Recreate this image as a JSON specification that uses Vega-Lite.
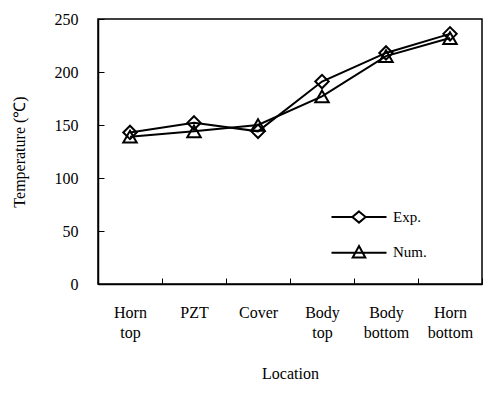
{
  "$schema": "https://vega.github.io/schema/vega-lite/v6.json",
  "width": 384,
  "height": 265,
  "autosize": "none",
  "padding": {"left": 98, "top": 19, "right": 6, "bottom": 124},
  "background": "white",
  "config": {
    "font": "Liberation Serif",
    "view": {"stroke": "black", "strokeWidth": 1.5},
    "axis": {
      "domainColor": "black", "domainWidth": 1.5, "tickColor": "black", "tickWidth": 1,
      "labelColor": "black", "titleColor": "black",
      "labelFont": "Liberation Serif", "titleFont": "Liberation Serif",
      "labelFontSize": 16, "titleFontSize": 16, "titleFontWeight": "normal", "grid": false
    }
  },
  "data": {
    "values": [
      {"location": "Horn top", "series": "Exp.", "temp": 143},
      {"location": "PZT", "series": "Exp.", "temp": 152},
      {"location": "Cover", "series": "Exp.", "temp": 144},
      {"location": "Body top", "series": "Exp.", "temp": 191},
      {"location": "Body bottom", "series": "Exp.", "temp": 218},
      {"location": "Horn bottom", "series": "Exp.", "temp": 236},
      {"location": "Horn top", "series": "Num.", "temp": 139},
      {"location": "PZT", "series": "Num.", "temp": 144},
      {"location": "Cover", "series": "Num.", "temp": 150},
      {"location": "Body top", "series": "Num.", "temp": 177},
      {"location": "Body bottom", "series": "Num.", "temp": 215},
      {"location": "Horn bottom", "series": "Num.", "temp": 232}
    ]
  },
  "encoding": {
    "x": {
      "field": "location", "type": "nominal",
      "sort": ["Horn top", "PZT", "Cover", "Body top", "Body bottom", "Horn bottom"],
      "scale": {"type": "band", "paddingInner": 0, "paddingOuter": 0},
      "axis": {
        "title": "Location", "labelAngle": 0, "labelExpr": "split(datum.label, ' ')",
        "labelLineHeight": 20, "labelPadding": 26, "tickSize": -6, "tickBand": "extent",
        "titlePadding": 25, "labelBaseline": "top", "labelFontSize": 16
      }
    },
    "y": {
      "field": "temp", "type": "quantitative",
      "scale": {"domain": [0, 250]},
      "axis": {
        "title": "Temperature (℃)", "values": [0, 50, 100, 150, 200, 250],
        "tickSize": -6, "labelPadding": 26, "titlePadding": 27
      }
    }
  },
  "resolve": {"scale": {"shape": "independent"}, "legend": {"shape": "independent"}},
  "layer": [
    {
      "mark": {"type": "line", "color": "black", "strokeWidth": 2},
      "encoding": {"detail": {"field": "series"}}
    },
    {
      "mark": {"type": "point", "filled": false, "color": "black", "strokeWidth": 2, "size": 180, "opacity": 1},
      "encoding": {
        "shape": {
          "field": "series", "type": "nominal",
          "scale": {"domain": ["Exp.", "Num."], "range": ["diamond", "triangle-up"]},
          "legend": null
        }
      }
    },
    {
      "transform": [{"filter": "false"}],
      "mark": {"type": "point", "filled": false, "color": "black", "strokeWidth": 2, "opacity": 1},
      "encoding": {
        "shape": {
          "field": "series", "type": "nominal",
          "scale": {
            "domain": ["Exp.", "Num."],
            "range": [
              "M-3.93,0L-0.95,0M0.95,0L3.93,0M0,-0.8L0.95,0L0,0.8L-0.95,0Z",
              "M-3.93,0.1L3.93,0.1M0,-0.85L0.9,0.8L-0.9,0.8Z"
            ]
          },
          "legend": {
            "orient": "none", "legendX": 253, "legendY": 190, "title": null, "padding": 0,
            "symbolSize": 196, "labelOffset": 26, "rowPadding": 15,
            "labelFontSize": 15, "labelFont": "Liberation Serif", "labelColor": "black",
            "symbolStrokeWidth": 2, "symbolStrokeColor": "black", "symbolFillColor": "transparent",
            "symbolOpacity": 1
          }
        }
      }
    }
  ]
}
